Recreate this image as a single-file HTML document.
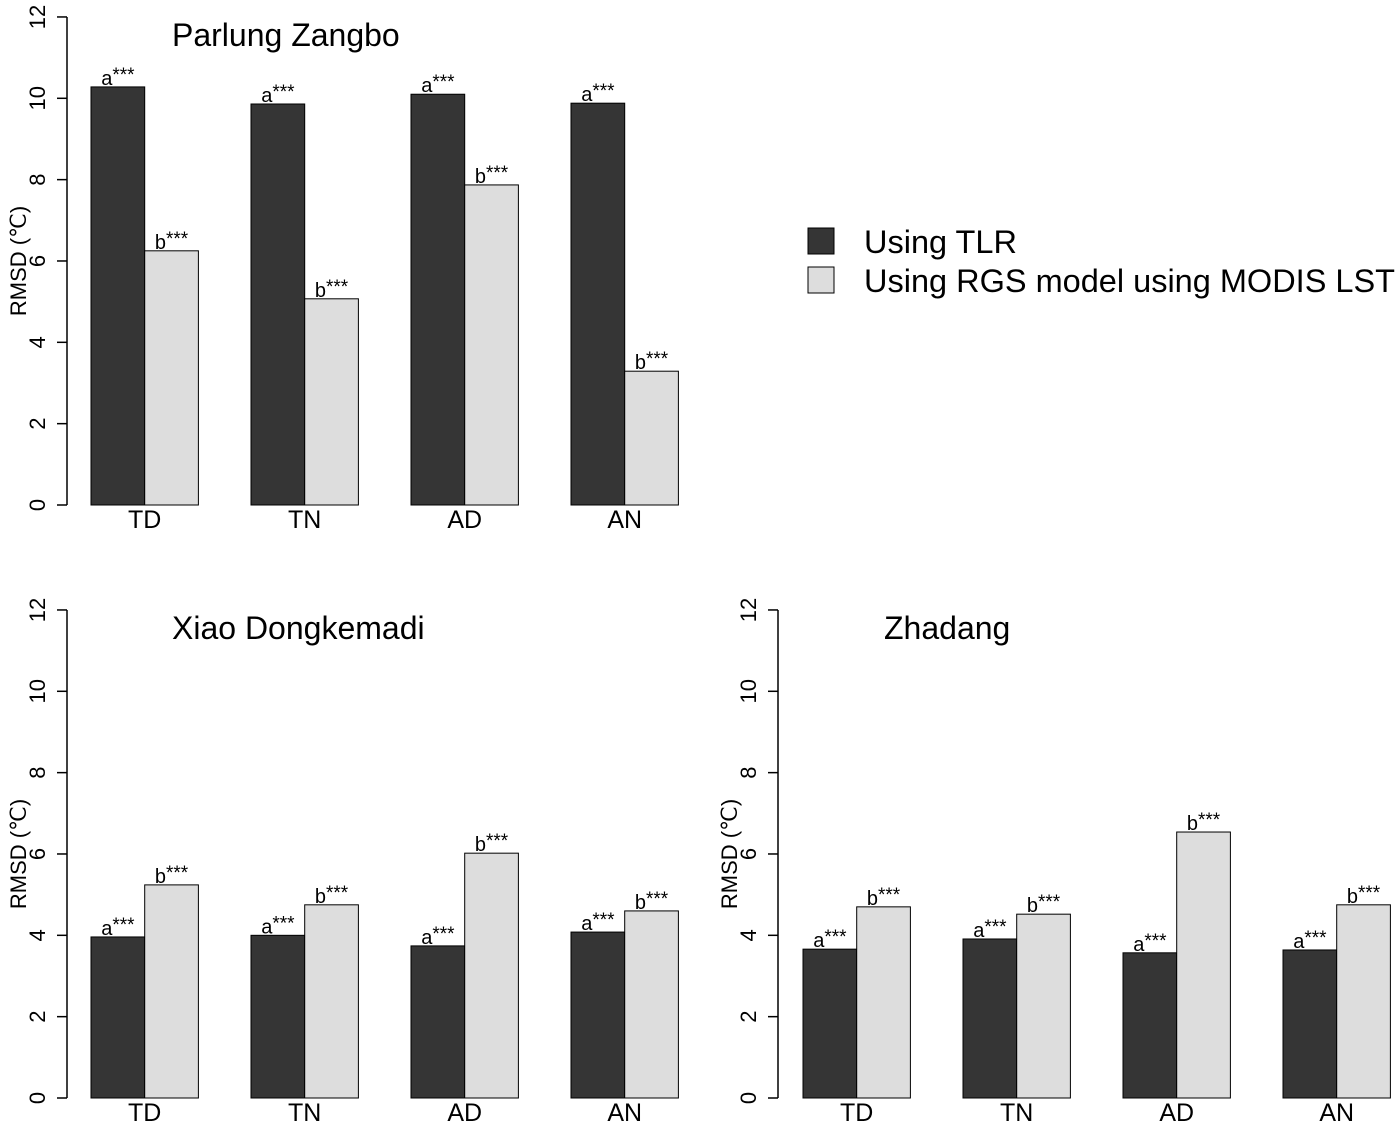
<!DOCTYPE html>
<html><head><meta charset="utf-8"><style>
body{margin:0;background:#fff;}
svg{display:block;font-family:"Liberation Sans",Arial,sans-serif;}
</style></head><body>
<svg id="c" width="1400" height="1127" viewBox="0 0 1400 1127"></svg>
<script>
const categories=["TD","TN","AD","AN"];
const parlungTLR=[10.28,9.86,10.1,9.88];
const parlungRGS=[6.25,5.07,7.87,3.29];
const xiaoTLR=[3.96,4.0,3.74,4.08];
const xiaoRGS=[5.24,4.75,6.02,4.6];
const zhadangTLR=[3.66,3.91,3.57,3.64];
const zhadangRGS=[4.7,4.52,6.54,4.75];
const yTicks=[0,2,4,6,8,10,12];
const panelTitles=["Parlung Zangbo","Xiao Dongkemadi","Zhadang"];
const legendLabels=["Using TLR","Using RGS model using MODIS LST"];

const svg=document.getElementById('c');
const NS="http://www.w3.org/2000/svg";
function mk(t,a,p){const e=document.createElementNS(NS,t);for(const k in a)e.setAttribute(k,a[k]);(p||svg).appendChild(e);return e;}
const panels=[
 {ax:67,x0:91,y0:505,title:0,tx:172,ty:46,a:parlungTLR,b:parlungRGS,name:'parlung-zangbo'},
 {ax:67,x0:91,y0:1098,title:1,tx:172,ty:639,a:xiaoTLR,b:xiaoRGS,name:'xiao-dongkemadi'},
 {ax:778,x0:803,y0:1098,title:2,tx:884,ty:639,a:zhadangTLR,b:zhadangRGS,name:'zhadang'}
];
const pxPerUnit=40.67, bw=53.7, gap=160;
panels.forEach(P=>{
 const g=mk('g',{});
 
 
 const y=v=>P.y0-v*pxPerUnit;
 const axl=mk('line',{x1:P.ax,x2:P.ax,y1:y(0),y2:y(12),stroke:'#000','stroke-width':1.5},g);
 
 
 yTicks.forEach(t=>{
  mk('line',{x1:P.ax-10,x2:P.ax,y1:y(t),y2:y(t),stroke:'#000','stroke-width':1.5},g);
  const tl=mk('text',{x:0,y:0,transform:`translate(${P.ax-22},${y(t)}) rotate(-90)`,'text-anchor':'middle','font-size':22},g);
  tl.textContent=t;
  
  
 });
 const yl=mk('text',{transform:`translate(${P.ax-41},${y(6)}) rotate(-90)`,'text-anchor':'middle','font-size':22},g);
 yl.textContent="RMSD (℃)";
 
 
 const tt=mk('text',{x:P.tx,y:P.ty,'font-size':32},g);
 tt.textContent=panelTitles[P.title];
 
 
 categories.forEach((c,i)=>{
  const x=P.x0+i*gap;
  [[P.a[i],'#353535','a'],[P.b[i],'#dddddd','b']].forEach((d,j)=>{
   const bx=x+j*bw;
   const r=mk('rect',{x:bx,y:y(d[0]),width:bw,height:d[0]*pxPerUnit,fill:d[1],stroke:'#000','stroke-width':1},g);
   
   
   const an=mk('text',{x:bx+bw/2,y:y(d[0])-2,'text-anchor':'middle','font-size':20},g);
   an.innerHTML=d[2]+'<tspan dy="-4" font-size="19">***</tspan>';
   
   
  });
  const cl=mk('text',{x:x+bw,y:P.y0+23,'text-anchor':'middle','font-size':25},g);
  cl.textContent=c;
  
  
 });
});
const lg=mk('g',{});


['#353535','#dddddd'].forEach((f,i)=>{
 const s=mk('rect',{x:808,y:228+i*39,width:26,height:26,fill:f,stroke:'#000','stroke-width':1},lg);
 
 
 const t=mk('text',{x:864,y:253+i*39,'font-size':32.5},lg);
 t.textContent=legendLabels[i];
 
 
});
</script>
</body></html>
